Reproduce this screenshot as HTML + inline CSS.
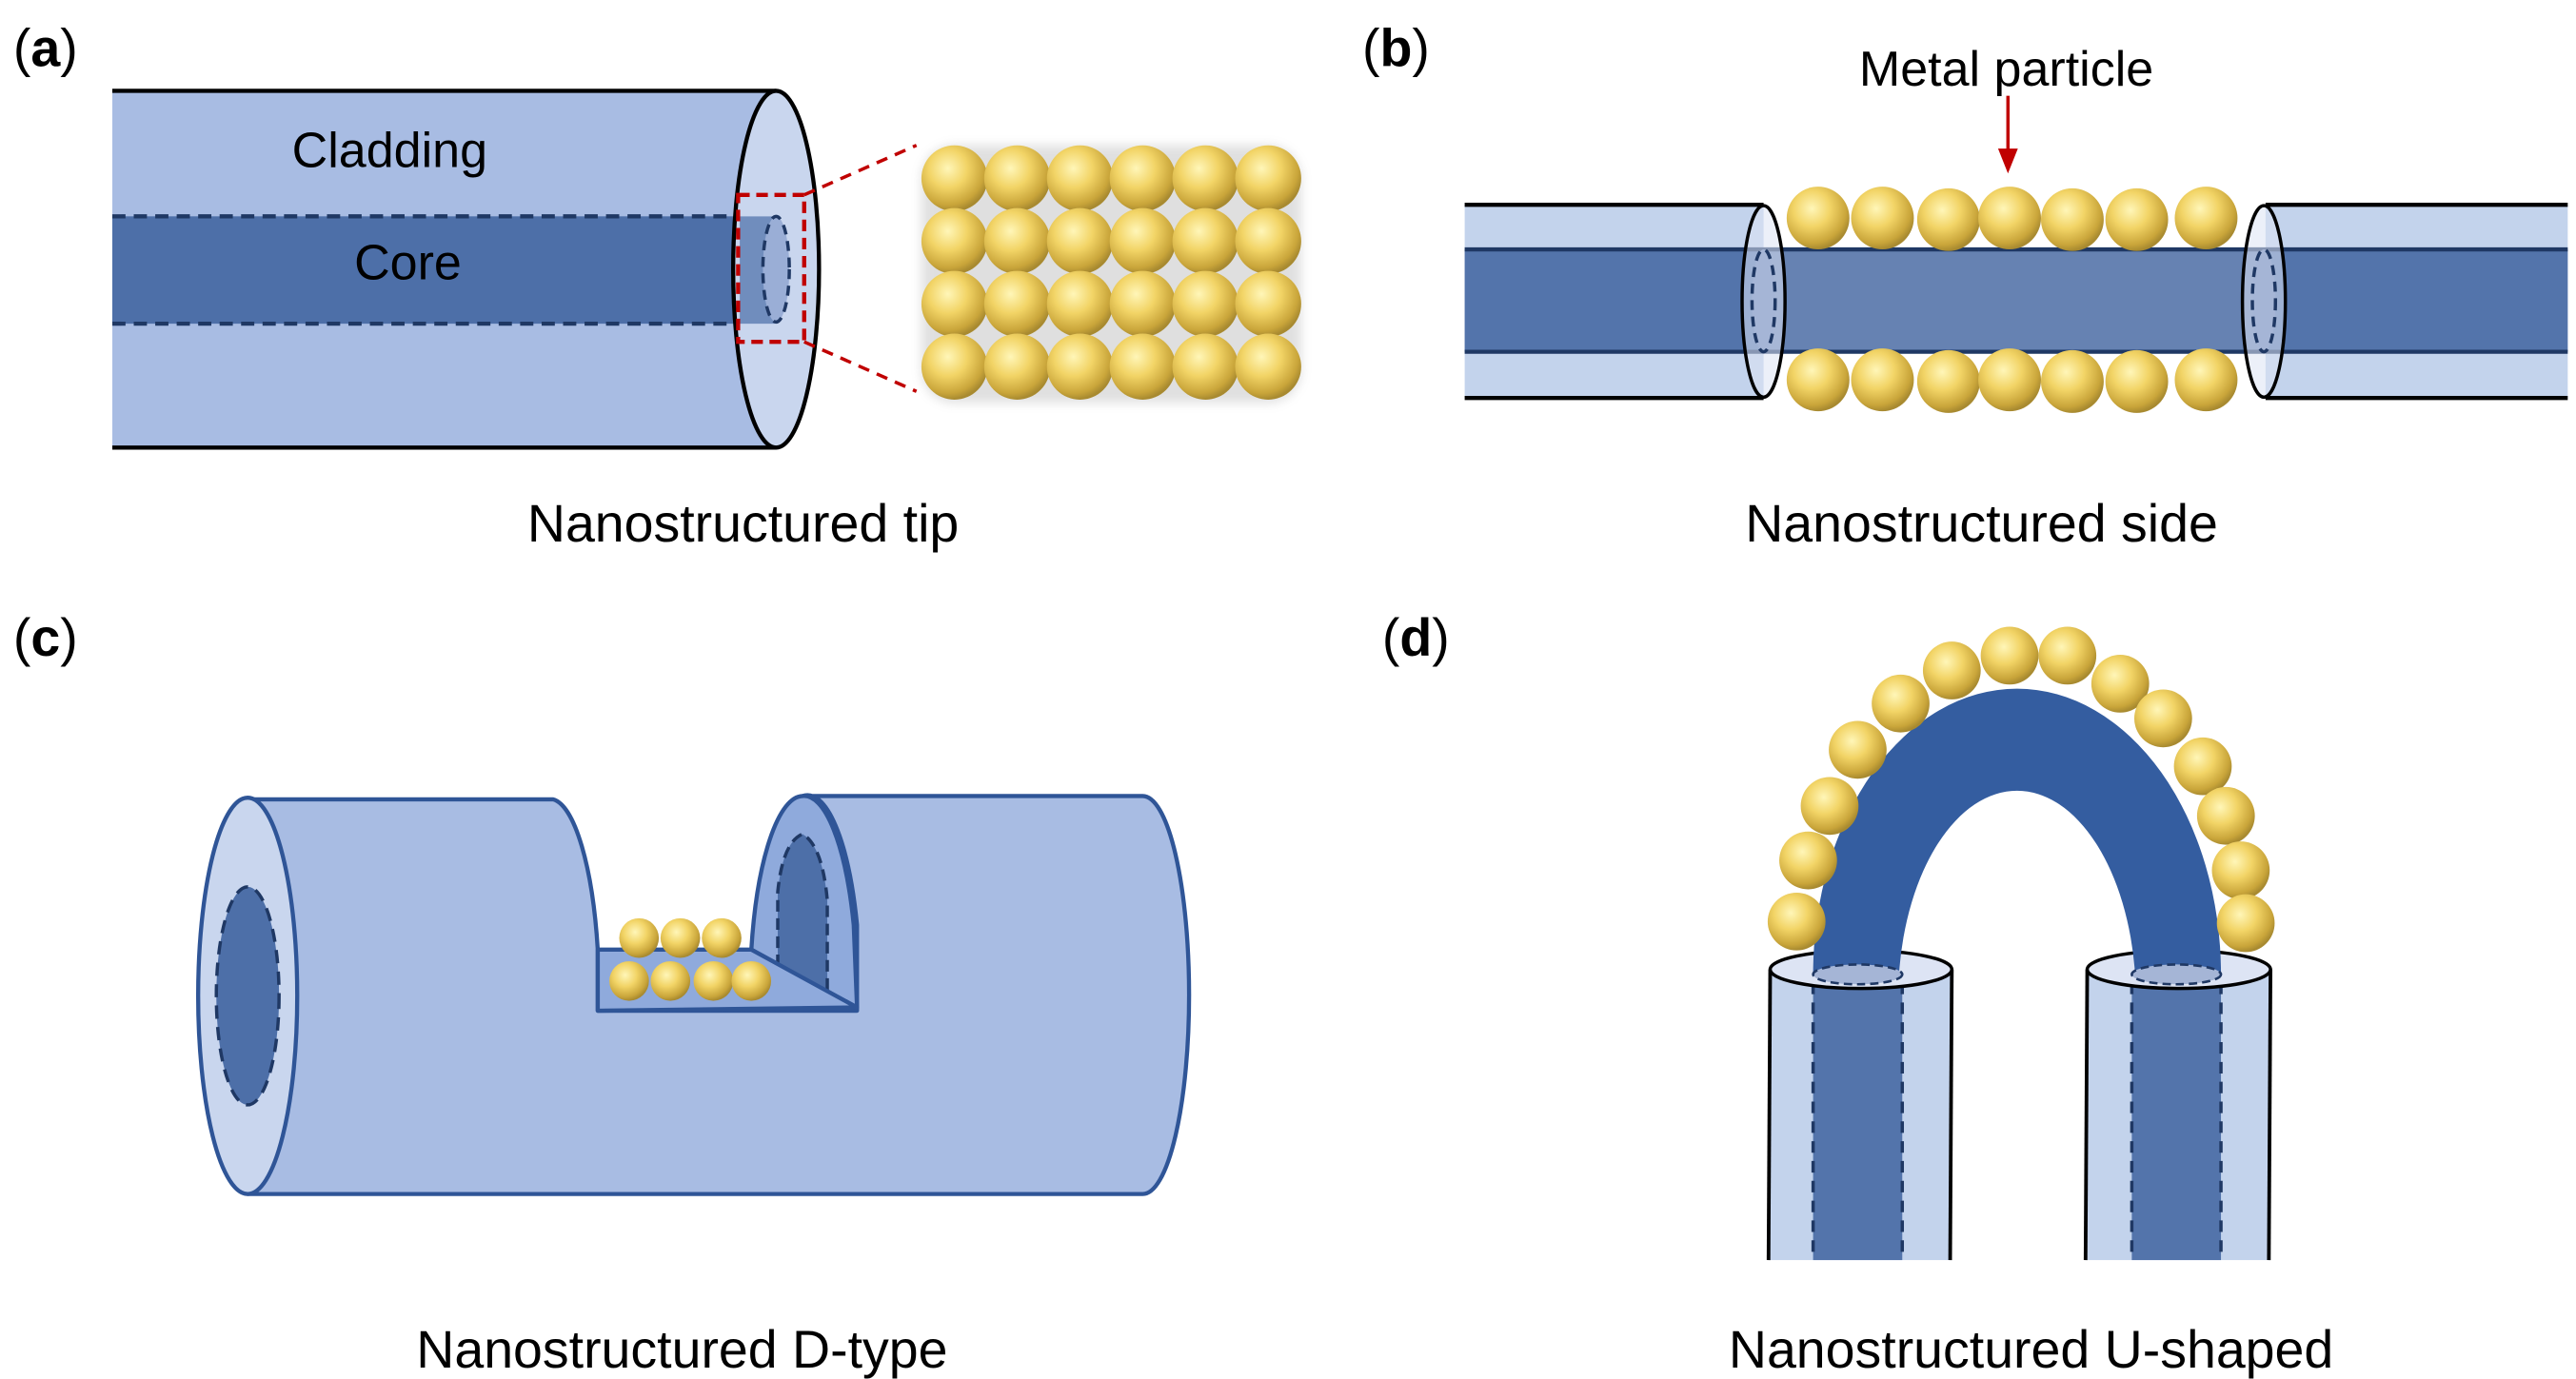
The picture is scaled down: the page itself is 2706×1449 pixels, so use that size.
<!DOCTYPE html>
<html><head><meta charset="utf-8"><style>html,body{margin:0;padding:0;background:#fff}svg{display:block}text{font-family:"Liberation Sans",Arial,sans-serif}</style></head>
<body>
<svg width="2706" height="1449" viewBox="0 0 1560 835" preserveAspectRatio="none" xmlns="http://www.w3.org/2000/svg">
<defs>
<radialGradient id="g" cx="0.4" cy="0.35" r="0.65">
<stop offset="0" stop-color="#fff6b8"/><stop offset="0.45" stop-color="#f2d466"/><stop offset="0.85" stop-color="#c9a53a"/><stop offset="1" stop-color="#a88a30"/>
</radialGradient>
<filter id="sh" x="-30%" y="-30%" width="160%" height="160%"><feGaussianBlur stdDeviation="3"/></filter>
</defs>

<!-- labels -->
<text x="8" y="40" font-size="32"><tspan>(</tspan><tspan font-weight="bold">a</tspan><tspan>)</tspan></text>
<text x="825" y="40" font-size="32"><tspan>(</tspan><tspan font-weight="bold">b</tspan><tspan>)</tspan></text>
<text x="8" y="397" font-size="32"><tspan>(</tspan><tspan font-weight="bold">c</tspan><tspan>)</tspan></text>
<text x="837" y="397" font-size="32"><tspan>(</tspan><tspan font-weight="bold">d</tspan><tspan>)</tspan></text>

<!-- (a) -->
<rect x="68" y="55" width="402" height="216" fill="#a8bce3"/>
<rect x="68" y="131" width="402" height="65" fill="#4d6fa8"/>
<line x1="68" y1="131" x2="470" y2="131" stroke="#1f3864" stroke-width="2.5" stroke-dasharray="8,5"/>
<line x1="68" y1="196" x2="470" y2="196" stroke="#1f3864" stroke-width="2.5" stroke-dasharray="8,5"/>
<line x1="68" y1="55" x2="470" y2="55" stroke="#000" stroke-width="2.5"/>
<line x1="68" y1="271" x2="470" y2="271" stroke="#000" stroke-width="2.5"/>
<ellipse cx="470" cy="163" rx="26" ry="108" fill="#c9d6ee" stroke="#000" stroke-width="2.5"/>
<path d="M448 131 H470 V196 H448 Z" fill="#5a7ab0" opacity="0.8"/>
<ellipse cx="470" cy="163" rx="8" ry="32" fill="#9aaed6" stroke="#1f3864" stroke-width="2" stroke-dasharray="6,4"/>
<rect x="447" y="118" width="40" height="89" fill="none" stroke="#c00000" stroke-width="2.5" stroke-dasharray="7,4"/>
<line x1="487" y1="118" x2="555" y2="88" stroke="#c00000" stroke-width="2" stroke-dasharray="7,5"/>
<line x1="487" y1="207" x2="555" y2="237" stroke="#c00000" stroke-width="2" stroke-dasharray="7,5"/>
<text x="236" y="101" font-size="30" text-anchor="middle">Cladding</text>
<text x="247" y="169" font-size="30" text-anchor="middle">Core</text>
<text x="450" y="328" font-size="32" text-anchor="middle">Nanostructured tip</text>
<rect x="558" y="88" width="230" height="156" rx="20" fill="#999" opacity="0.3" filter="url(#sh)"/>

<!-- (b) -->
<rect x="887" y="124" width="181" height="117" fill="#c3d3ec"/>
<rect x="1372" y="124" width="183" height="117" fill="#c3d3ec"/>
<rect x="887" y="151" width="668" height="62" fill="#5374ab"/>
<rect x="1068" y="151" width="304" height="62" fill="#6682b2"/>
<line x1="887" y1="124" x2="1068" y2="124" stroke="#000" stroke-width="2.5"/>
<line x1="887" y1="241" x2="1068" y2="241" stroke="#000" stroke-width="2.5"/>
<line x1="1372" y1="124" x2="1555" y2="124" stroke="#000" stroke-width="2.5"/>
<line x1="1372" y1="241" x2="1555" y2="241" stroke="#000" stroke-width="2.5"/>
<line x1="887" y1="151" x2="1555" y2="151" stroke="#1f3864" stroke-width="2.5"/>
<line x1="887" y1="213" x2="1555" y2="213" stroke="#1f3864" stroke-width="2.5"/>
<ellipse cx="1068" cy="182.5" rx="13" ry="58" fill="#dde4f4" fill-opacity="0.55" stroke="#000" stroke-width="2"/>
<ellipse cx="1371" cy="182.5" rx="13" ry="58" fill="#dde4f4" fill-opacity="0.55" stroke="#000" stroke-width="2"/>
<ellipse cx="1068" cy="182" rx="7" ry="31" fill="#a5b5d6" stroke="#1f3864" stroke-width="2" stroke-dasharray="6,4"/>
<ellipse cx="1371" cy="182" rx="7" ry="31" fill="#a5b5d6" stroke="#1f3864" stroke-width="2" stroke-dasharray="6,4"/>
<text x="1215" y="52" font-size="30" text-anchor="middle">Metal particle</text>
<line x1="1216" y1="58" x2="1216" y2="92" stroke="#c00000" stroke-width="2"/>
<polygon points="1210,90 1222,90 1216,105" fill="#c00000"/>
<text x="1200" y="328" font-size="32" text-anchor="middle">Nanostructured side</text>

<!-- (c) -->
<path d="M150 484 H335 A30 120 0 0 1 362 575 V612 H519 V560 A32 120 0 0 0 486 482 H692 A28 120 0 0 1 692 723 H150 Z" fill="#a8bce3" stroke="#2f5597" stroke-width="2.5" stroke-linejoin="round"/>
<ellipse cx="150" cy="603" rx="30" ry="120" fill="#c9d6ee" stroke="#2f5597" stroke-width="2.5"/>
<ellipse cx="150" cy="603" rx="19" ry="66" fill="#4d6fa8" stroke="#1f3864" stroke-width="2" stroke-dasharray="8,5"/>
<path d="M455 575 A32 120 0 0 1 486 482 A32 120 0 0 1 517 560 L519 610 Z" fill="#8faadc" stroke="#2f5597" stroke-width="2.5" stroke-linejoin="round"/>
<path d="M471 590 V540 Q474 510 486 505 Q498 512 501 545 V603 Z" fill="#4d6fa8"/>
<path d="M471 585 V540 Q474 510 486 505 Q498 512 501 545 V603" fill="none" stroke="#1f3864" stroke-width="2" stroke-dasharray="7,4"/>
<polygon points="362,575 455,575 519,610 362,612" fill="#8faadc" stroke="#2f5597" stroke-width="2.5" stroke-linejoin="round"/>
<text x="413" y="828" font-size="32" text-anchor="middle">Nanostructured D-type</text>

<!-- (d) -->
<rect x="1072" y="587" width="110" height="176" fill="#c3d3ec"/>
<rect x="1264" y="587" width="111" height="176" fill="#c3d3ec"/>
<rect x="1098" y="587" width="54" height="176" fill="#5374ab"/>
<rect x="1291" y="587" width="54" height="176" fill="#5374ab"/>
<g stroke="#000" stroke-width="2.2">
<line x1="1072" y1="587" x2="1071" y2="763"/><line x1="1182" y1="587" x2="1181" y2="763"/>
<line x1="1264" y1="587" x2="1263" y2="763"/><line x1="1375" y1="587" x2="1374" y2="763"/>
</g>
<g stroke="#1f3864" stroke-width="2" stroke-dasharray="7,5">
<line x1="1098" y1="595" x2="1098" y2="763"/><line x1="1152" y1="595" x2="1152" y2="763"/>
<line x1="1291" y1="595" x2="1291" y2="763"/><line x1="1345" y1="595" x2="1345" y2="763"/>
</g>
<ellipse cx="1127" cy="587" rx="55" ry="11.5" fill="#dde4f4" stroke="#000" stroke-width="2"/>
<ellipse cx="1319.5" cy="587" rx="55.5" ry="11.5" fill="#dde4f4" stroke="#000" stroke-width="2"/>
<path d="M1098 590 A123.5 173 0 0 1 1345 590 L1293 590 A72 126 0 0 0 1150 590 Z" fill="#345da0"/>
<ellipse cx="1125" cy="590" rx="27" ry="6" fill="#a5b5d6" stroke="#1f3864" stroke-width="1.5" stroke-dasharray="5,3"/>
<ellipse cx="1318" cy="590" rx="27" ry="6" fill="#a5b5d6" stroke="#1f3864" stroke-width="1.5" stroke-dasharray="5,3"/>
<text x="1230" y="828" font-size="32" text-anchor="middle">Nanostructured U-shaped</text>

<!-- spheres -->
<g fill="url(#g)">
<circle cx="578" cy="108" r="20"/><circle cx="616" cy="108" r="20"/><circle cx="654" cy="108" r="20"/><circle cx="692" cy="108" r="20"/><circle cx="730" cy="108" r="20"/><circle cx="768" cy="108" r="20"/>
<circle cx="578" cy="146" r="20"/><circle cx="616" cy="146" r="20"/><circle cx="654" cy="146" r="20"/><circle cx="692" cy="146" r="20"/><circle cx="730" cy="146" r="20"/><circle cx="768" cy="146" r="20"/>
<circle cx="578" cy="184" r="20"/><circle cx="616" cy="184" r="20"/><circle cx="654" cy="184" r="20"/><circle cx="692" cy="184" r="20"/><circle cx="730" cy="184" r="20"/><circle cx="768" cy="184" r="20"/>
<circle cx="578" cy="222" r="20"/><circle cx="616" cy="222" r="20"/><circle cx="654" cy="222" r="20"/><circle cx="692" cy="222" r="20"/><circle cx="730" cy="222" r="20"/><circle cx="768" cy="222" r="20"/>
<circle cx="1101" cy="132" r="19"/><circle cx="1140" cy="132" r="19"/><circle cx="1180" cy="133" r="19"/><circle cx="1217" cy="132" r="19"/><circle cx="1255" cy="133" r="19"/><circle cx="1294" cy="133" r="19"/><circle cx="1336" cy="132" r="19"/>
<circle cx="1101" cy="230" r="19"/><circle cx="1140" cy="230" r="19"/><circle cx="1180" cy="231" r="19"/><circle cx="1217" cy="230" r="19"/><circle cx="1255" cy="231" r="19"/><circle cx="1294" cy="231" r="19"/><circle cx="1336" cy="230" r="19"/>
<circle cx="387" cy="568" r="12"/><circle cx="412" cy="568" r="12"/><circle cx="437" cy="568" r="12"/>
<circle cx="381" cy="594" r="12"/><circle cx="406" cy="594" r="12"/><circle cx="432" cy="594" r="12"/><circle cx="455" cy="594" r="12"/>
<circle cx="1088" cy="558" r="17.5"/><circle cx="1095" cy="521" r="17.5"/><circle cx="1108" cy="488" r="17.5"/><circle cx="1125" cy="454" r="17.5"/><circle cx="1151" cy="426" r="17.5"/><circle cx="1182" cy="406" r="17.5"/><circle cx="1217" cy="397" r="17.5"/>
<circle cx="1252" cy="397" r="17.5"/><circle cx="1284" cy="414" r="17.5"/><circle cx="1310" cy="435" r="17.5"/><circle cx="1334" cy="464" r="17.5"/><circle cx="1348" cy="494" r="17.5"/><circle cx="1357" cy="527" r="17.5"/><circle cx="1360" cy="559" r="17.5"/>
</g>
</svg>
</body></html>
